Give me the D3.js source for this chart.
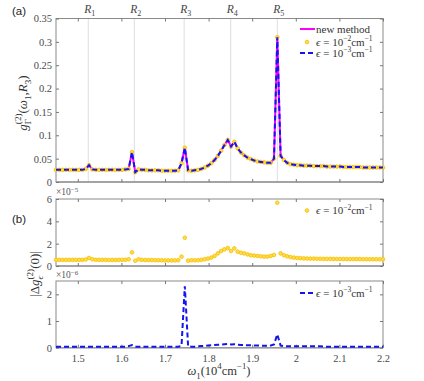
<!DOCTYPE html>
<html>
<head>
<meta charset="utf-8">
<script src="https://cdn.jsdelivr.net/npm/d3@7"></script>
<style>
  body { margin: 0; background: #fff; }
  svg { display: block; }
  svg text { font-family: "Liberation Serif", "Times New Roman", serif; }
  .tick text { font-size: 10.5px; fill: #4a4a4a; }
  .tick line { stroke: #777; }
  .domain { stroke: none; }
  .sans { font-family: "Liberation Sans", Arial, sans-serif !important; }
</style>
</head>
<body>
<div id="chart"></div>
<script>
// sampling grid: 100 evenly spaced frequencies between 1.45 and 2.2 (10^4 cm^-1)
var omegaStart = 1.45, omegaEnd = 2.2, nSamples = 100;
var omega = d3.range(nSamples).map(function(i){ return omegaStart + i * (omegaEnd - omegaStart) / (nSamples - 1); });

// resonance positions R1..R5
var resonances = [1.524, 1.6296, 1.744, 1.8507, 1.9576];
var resonanceNames = ["1", "2", "3", "4", "5"];

// g^(2)(w1, R3) -- the three methods coincide at this scale
var gNew = [0.026,0.026,0.026,0.026,0.026,0.026,0.026,0.026,0.026,0.028,
  0.036,0.027,0.026,0.026,0.026,0.026,0.026,0.026,0.026,0.026,
  0.026,0.027,0.028,0.064,0.021,0.027,0.026,0.026,0.025,0.025,
  0.025,0.025,0.024,0.024,0.024,0.024,0.024,0.025,0.040,0.0735,
  0.025,0.024,0.025,0.026,0.028,0.031,0.035,0.040,0.047,0.056,
  0.067,0.079,0.090,0.076,0.086,0.072,0.063,0.057,0.052,0.049,
  0.046,0.044,0.043,0.042,0.041,0.041,0.050,0.310,0.056,0.047,
  0.041,0.038,0.037,0.036,0.036,0.035,0.035,0.035,0.034,0.034,
  0.034,0.034,0.033,0.033,0.033,0.033,0.033,0.032,0.032,0.032,
  0.032,0.032,0.032,0.031,0.031,0.031,0.031,0.031,0.031,0.031];

// |delta g| for eps = 1e-2 cm^-1, in units of 1e-5
var dEps2 = [0.55,0.55,0.55,0.55,0.55,0.55,0.55,0.55,0.55,0.58,
  0.72,0.60,0.56,0.55,0.55,0.55,0.54,0.54,0.54,0.55,
  0.55,0.56,0.60,1.22,0.47,0.60,0.55,0.54,0.53,0.53,
  0.52,0.52,0.51,0.50,0.50,0.50,0.50,0.52,0.84,2.53,
  0.48,0.51,0.51,0.52,0.55,0.60,0.66,0.75,0.90,1.13,
  1.34,1.49,1.61,1.34,1.58,1.28,1.19,1.13,1.04,0.96,
  0.93,0.90,0.87,0.84,0.84,0.90,0.99,5.67,1.13,0.96,
  0.87,0.80,0.75,0.72,0.70,0.68,0.67,0.66,0.66,0.65,
  0.65,0.64,0.64,0.64,0.63,0.63,0.63,0.63,0.62,0.62,
  0.62,0.62,0.62,0.61,0.61,0.61,0.61,0.60,0.60,0.60];

// |delta g| for eps = 1e-3 cm^-1, in units of 1e-6
var dEps3 = [0.04,0.04,0.04,0.04,0.04,0.04,0.04,0.04,0.04,0.04,
  0.04,0.04,0.04,0.04,0.04,0.04,0.04,0.04,0.04,0.04,
  0.04,0.04,0.06,0.10,0.04,0.04,0.04,0.04,0.04,0.04,
  0.04,0.04,0.04,0.04,0.04,0.04,0.04,0.04,0.07,2.30,
  0.05,0.04,0.04,0.05,0.06,0.07,0.08,0.09,0.10,0.11,
  0.12,0.13,0.14,0.12,0.13,0.11,0.10,0.10,0.09,0.09,
  0.08,0.08,0.08,0.07,0.07,0.08,0.12,0.50,0.08,0.06,
  0.05,0.05,0.05,0.05,0.05,0.05,0.05,0.05,0.05,0.05,
  0.05,0.04,0.04,0.04,0.04,0.04,0.04,0.04,0.04,0.04,
  0.04,0.04,0.04,0.04,0.04,0.04,0.04,0.04,0.04,0.04];

var xTicks = [1.5, 1.6, 1.7, 1.8, 1.9, 2.0, 2.1, 2.2];
var yTicksA = [0, 0.05, 0.1, 0.15, 0.2, 0.25, 0.3, 0.35];
var yTicksB1 = [0, 2, 4, 6];
var yTicksB2 = [0, 1, 2];

var magenta = "#ff00ff", gold = "#f7c300", goldFill = "#ffdb55", blue = "#1414f0";

var svg = d3.select("#chart").append("svg")
  .attr("width", 424).attr("height", 381);

var x = d3.scaleLinear().domain([omegaStart, omegaEnd]).range([56, 383]);

function frame(y, ticks, fmt, showX){
  var g = svg.append("g");
  var top = y.range()[1], bot = y.range()[0];
  g.append("rect").attr("x", 56).attr("y", top).attr("width", 327).attr("height", bot - top)
    .attr("fill", "none").attr("stroke", "#8a8a8a").attr("stroke-width", 1);
  g.append("line").attr("x1", 56).attr("x2", 383).attr("y1", bot).attr("y2", bot)
    .attr("stroke", "#999").attr("stroke-width", 1.6);
  g.append("g").attr("transform", "translate(0," + bot + ")")
    .call(d3.axisBottom(x).tickValues(xTicks).tickSize(-3).tickPadding(7)
      .tickFormat(showX ? function(d){ return String(+d.toFixed(1)); } : ""));
  g.append("g").attr("transform", "translate(0," + top + ")")
    .call(d3.axisTop(x).tickValues(xTicks).tickSize(-3).tickFormat(""));
  g.append("g").attr("transform", "translate(56,0)")
    .call(d3.axisLeft(y).tickValues(ticks).tickSize(-3).tickPadding(4).tickFormat(fmt));
  g.append("g").attr("transform", "translate(383,0)")
    .call(d3.axisRight(y).tickValues(ticks).tickSize(-3).tickFormat(""));
  g.selectAll("g").attr("font-family", null);
  return g;
}

// helper for math-ish labels: parts laid out left to right, 'stack' keeps x for next part
function rich(parent, parts, size){
  var g = parent.append("g");
  var cx = 0, stackX = null, maxX = 0;
  parts.forEach(function(p){
    var fs = p.k === "sub" || p.k === "sup" ? size * 0.7 : size;
    var dy = p.k === "sub" ? size * 0.3 : (p.k === "sup" ? -size * 0.45 : 0);
    var t = g.append("text").attr("x", cx).attr("y", dy)
      .attr("font-size", fs).attr("fill", "#333")
      .attr("font-style", p.i ? "italic" : "normal").text(p.t);
    var w = t.node().getComputedTextLength();
    if (p.stack) { stackX = cx; maxX = cx + w; }
    else if (stackX !== null) { cx = Math.max(maxX, cx + w); stackX = null; }
    else { cx += w; }
  });
  return g;
}

// ---- panel (a)
var yA = d3.scaleLinear().domain([0, 0.35]).range([182, 18.5]);

svg.selectAll(".rline").data(resonances).enter().append("line")
  .attr("x1", function(d){ return x(d); }).attr("x2", function(d){ return x(d); })
  .attr("y1", 18.5).attr("y2", 182).attr("stroke", "#dedede").attr("stroke-width", 1);

frame(yA, yTicksA, function(d){ return d === 0 ? "0" : String(+d.toFixed(2)); }, false);

resonances.forEach(function(r, i){
  var t = svg.append("text").attr("x", x(r) - 4).attr("y", 13)
    .attr("font-size", 11.5).attr("fill", "#444");
  t.append("tspan").attr("font-style", "italic").text("R");
  t.append("tspan").attr("font-size", 8).attr("dy", 2.5).text(resonanceNames[i]);
});

var ptsA = omega.map(function(w, i){ return [w, gNew[i]]; });
var lineA = d3.line().x(function(d){ return x(d[0]); }).y(function(d){ return yA(d[1]); });

svg.append("path").datum(ptsA).attr("fill", "none").attr("stroke", magenta)
  .attr("stroke-width", 2).attr("d", lineA);
svg.append("g").selectAll("circle").data(ptsA).enter().append("circle")
  .attr("cx", function(d){ return x(d[0]); }).attr("cy", function(d){ return yA(d[1]); })
  .attr("r", 1.8).attr("fill", goldFill).attr("stroke", gold).attr("stroke-width", 0.9);
svg.append("path").datum(ptsA).attr("fill", "none").attr("stroke", blue)
  .attr("stroke-width", 2).attr("stroke-dasharray", "5,3").attr("d", lineA);

// legend (a)
function epsLabel(yy, p){
  var t = svg.append("text").attr("x", 316).attr("y", yy)
    .attr("font-size", 11).attr("fill", "#333");
  t.append("tspan").attr("font-style", "italic").text("\u03f5");
  t.append("tspan").text(" = 10");
  t.append("tspan").attr("font-size", 7.5).attr("dy", -4.5).text("\u2212" + p);
  t.append("tspan").attr("dy", 4.5).text("cm");
  t.append("tspan").attr("font-size", 7.5).attr("dy", -4.5).text("\u22121");
}
svg.append("line").attr("x1", 300).attr("x2", 315).attr("y1", 29).attr("y2", 29)
  .attr("stroke", magenta).attr("stroke-width", 2);
svg.append("text").attr("x", 316).attr("y", 32.5)
  .attr("font-size", 11).attr("fill", "#333").text("new method");
svg.append("circle").attr("cx", 307).attr("cy", 42).attr("r", 1.8)
  .attr("fill", goldFill).attr("stroke", gold).attr("stroke-width", 0.9);
epsLabel(45.5, 2);
svg.append("line").attr("x1", 300).attr("x2", 315).attr("y1", 53).attr("y2", 53)
  .attr("stroke", blue).attr("stroke-width", 2).attr("stroke-dasharray", "5,3");
epsLabel(56.5, 3);

// ---- panel (b) upper: eps = 1e-2
var yB1 = d3.scaleLinear().domain([0, 6]).range([266, 199]);
frame(yB1, yTicksB1, d3.format("d"), false);
svg.append("g").selectAll("circle").data(dEps2).enter().append("circle")
  .attr("cx", function(d, i){ return x(omega[i]); }).attr("cy", function(d){ return yB1(d); })
  .attr("r", 1.8).attr("fill", goldFill).attr("stroke", gold).attr("stroke-width", 0.9);
svg.append("circle").attr("cx", 307).attr("cy", 210.5).attr("r", 1.8)
  .attr("fill", goldFill).attr("stroke", gold).attr("stroke-width", 0.9);
epsLabel(214, 2);

// ---- panel (b) lower: eps = 1e-3
var yB2 = d3.scaleLinear().domain([0, 2.5]).range([347.7, 281]);
frame(yB2, yTicksB2, d3.format("d"), true);
svg.append("path").datum(dEps3).attr("fill", "none").attr("stroke", blue)
  .attr("stroke-width", 2).attr("stroke-dasharray", "5,3")
  .attr("d", d3.line().x(function(d, i){ return x(omega[i]); }).y(function(d){ return yB2(d); }));
svg.append("line").attr("x1", 300).attr("x2", 315).attr("y1", 293).attr("y2", 293)
  .attr("stroke", blue).attr("stroke-width", 2).attr("stroke-dasharray", "5,3");
epsLabel(296.5, 3);

// exponent labels
[[195, "5"], [278, "6"]].forEach(function(e){
  var t = svg.append("text").attr("x", 56).attr("y", e[0])
    .attr("font-size", 9.5).attr("fill", "#555");
  t.append("tspan").text("\u00d710");
  t.append("tspan").attr("font-size", 7).attr("dy", -3.5).text("\u2212" + e[1]);
});

// panel letters
svg.append("text").attr("class", "sans").attr("x", 12).attr("y", 15)
  .attr("font-size", 11.5).attr("fill", "#222").text("(a)");
svg.append("text").attr("class", "sans").attr("x", 12).attr("y", 223)
  .attr("font-size", 11.5).attr("fill", "#222").text("(b)");

// axis titles
var labA = rich(svg, [{t: "g", i: true}, {t: "(2)", k: "sup", stack: true}, {t: "\u0393", k: "sub"},
  {t: "("}, {t: "\u03c9", i: true}, {t: "1", k: "sub"}, {t: ", "}, {t: "R", i: true}, {t: "3", k: "sub"}, {t: ")"}], 13);
var bA = labA.node().getBBox();
labA.attr("transform", "translate(27," + (103 + bA.width / 2 + bA.x) + ") rotate(-90)");

var labB = rich(svg, [{t: "|\u0394"}, {t: "g", i: true}, {t: "(2)", k: "sup", stack: true}, {t: "\u03f5", k: "sub", i: true},
  {t: "(0)|"}], 13);
var bB = labB.node().getBBox();
labB.attr("transform", "translate(39," + (274 + bB.width / 2 + bB.x) + ") rotate(-90)");

var labX = rich(svg, [{t: "\u03c9", i: true}, {t: "1", k: "sub"}, {t: "(10"}, {t: "4", k: "sup"}, {t: "cm"},
  {t: "\u22121", k: "sup"}, {t: ")"}], 12.5);
var bX = labX.node().getBBox();
labX.attr("transform", "translate(" + (219 - bX.width / 2 - bX.x) + ",375)");
</script>
</body>
</html>
